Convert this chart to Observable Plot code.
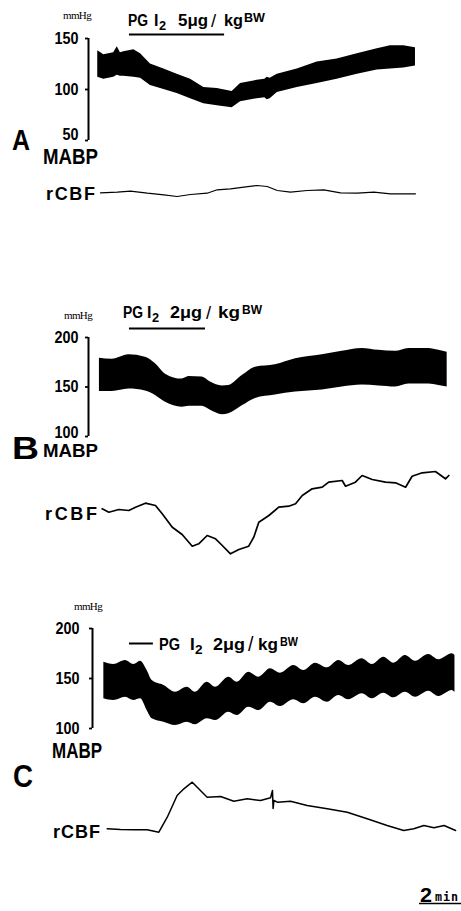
<!DOCTYPE html>
<html>
<head>
<meta charset="utf-8">
<script src="https://cdn.jsdelivr.net/npm/d3@7"></script>
<script src="https://cdn.jsdelivr.net/npm/@observablehq/plot@0.6"></script>
<style>
  html, body { margin: 0; padding: 0; background: #fff; }
  #fig { position: relative; width: 461px; height: 911px; overflow: hidden; background: #fff; }
  #fig svg { position: absolute; left: 0; }
</style>
</head>
<body>
<div id="fig"></div>
<script>
// ---------------- DATA (time in minutes, pressure in mmHg, rCBF in relative units) ----------------
// Panel A : PGI2 5 ug/kgBW
const aTime = [0.44,0.73,1.20,1.37,1.52,1.68,2.16,2.48,2.95,3.59,4.22,4.86,5.49,6.13,6.84,7.24,8.03,8.40,8.51,8.65,8.99,9.94,10.89,11.84,12.80,13.75,14.38,15.01,15.57];
const aHigh = [138,134,136,142,136,137,139,135,125,120,115,110,102,101,98,106,109,110,112,111,115,120,127,130,135,140,143,143,141];
const aLow  = [112,110,112,114,113,113,112,111,104,100,96,91,86,84,82,88,91,92,90,91,97,102,106,110,115,119,120,121,123];
const aFlowTime = [0.57,1.37,2.00,2.80,3.59,4.22,4.86,5.65,6.13,6.76,7.40,8.03,8.51,8.99,9.62,10.41,11.20,12.00,12.80,13.59,14.38,15.33,15.57];
const aFlow     = [-0.3,0.3,1.3,-0.7,-2.3,-4,-2,-0.7,2.7,3.7,5.3,7,6,2,0.3,2,2.7,-0.3,-0.7,0.3,-1.3,-1.3,-1.3];

// Panel B : PGI2 2 ug/kgBW
const bTime = [0.52,1.13,1.92,2.71,3.19,3.67,4.46,4.78,5.41,5.81,6.37,6.68,7.32,7.95,8.90,9.86,11.13,12.08,13.03,13.82,14.62,15.25,16.20,16.68,17.08];
const bHigh = [179,178,182.5,180,173.5,163,158,160.5,160,155,151,151.5,161.5,170,172.5,178.5,182.5,186,189,187,186,189,189,187,185];
const bLow  = [145.5,145.5,148,146,141.5,134.5,129.5,130.5,130.5,126.5,122,123,131,138.5,142,145,147,150,152,151,150,153,153,151.5,150];
const bFlowTime = [0.65,0.97,1.44,1.92,2.24,2.71,3.19,3.51,3.99,4.46,4.94,5.25,5.65,6.05,6.37,6.76,7.16,7.63,7.87,8.11,8.59,9.06,9.54,9.86,10.18,10.65,11.13,11.44,12.08,12.24,12.71,13.03,13.51,14.14,14.62,15.10,15.41,15.89,16.52,17.00,17.16];
const bFlow     = [1.7,-1.7,1,0,3.3,7.3,5,-3.3,-16.7,-24,-35.7,-33.3,-25,-28.3,-35,-43.3,-39,-35.7,-26.7,-11.7,-5,3.3,4.3,6.7,15,21.7,23.3,28.3,30,24.3,28.3,35,31,28.3,27.7,23.3,34.3,37.7,39,31.7,35];

// Panel C : PGI2 2 ug/kgBW
const cTime = [0.54,1.01,1.57,1.97,2.29,2.60,2.84,3.40,3.95,4.51,4.90,5.46,5.86,6.49,6.89,7.44,7.92,8.48,8.95,9.59,10.06,10.62,11.18,11.73,12.20,12.84,13.32,13.87,14.35,14.90,15.38,16.01,16.49,17.13,17.26];
const cHigh = [166.3,164,168,164,167.3,158,148,143,136.3,141.3,136.3,146.3,141.3,151.3,146.3,156.3,151.3,159.7,155.3,163,158,165.3,160.7,168,163,169.7,164,171.3,165.3,173,167.3,174,168.7,174.7,173];
const cLow  = [129.7,128,131.3,128,129.7,118,109.7,106.3,103,106.3,103.7,109.7,108,116.3,113,121.3,118,126.3,122,128.7,124.7,131.3,126.3,133,128.7,134.7,129.7,135.3,130.7,136.3,131.3,137.3,132,138,136];
const cFlowTime = [0.70,1.33,1.97,2.60,3.16,3.56,4.03,4.35,4.75,5.14,5.46,6.10,6.73,7.37,8.00,8.48,8.57,8.60,8.64,8.80,9.43,10.22,11.18,12.13,13.08,14.03,14.82,15.30,15.78,16.26,16.74,17.29];
const cFlow     = [0.7,0,-0.3,-0.3,-2.7,12.3,34,40.7,47.3,39,32.3,33,28.3,30.7,29,31.7,39,21,29,27.3,28.3,24,20.7,17.3,10.7,4,-1,0.7,4,1.7,4,-1];

// infusion markers and doses
const panelNames = ["A","B","C"];
const drugStart = [1.95, 1.95, 1.76];
const drugEnd   = [6.48, 5.57, 2.90];
const doseText  = ["5", "2", "2"];
// axis ticks (mmHg)
const aTicks = [50, 100, 150];
const bTicks = [100, 150, 200];
const cTicks = [100, 150, 200];
// time scale bar
const scaleBarMinutes = 2;

// ---------------- LAYOUT ----------------
const W = 461, PPM = 21, XMAX = 17.5;
const SANS = "'Liberation Sans',Arial,Helvetica,sans-serif";
const SERIF = "'Liberation Serif','Times New Roman',serif";
const MONO = "'DejaVu Sans Mono','Liberation Mono',monospace";
const fig = document.getElementById("fig");

const rows = (T, H, L) => T.map((t, i) => ({t, hi: H[i], lo: L[i]}));
const flowRows = (T, V) => T.map((t, i) => ({t, v: V[i]}));

function mabp({T, H, L, ticks, ml, mt, h, mb, curve, drug, tickPad, bottomShift}) {
  const svg = Plot.plot({
    width: W, height: h,
    marginLeft: ml, marginRight: W - ml - XMAX * PPM, marginTop: mt, marginBottom: mb,
    x: {domain: [0, XMAX], axis: null},
    y: {domain: [ticks[0], ticks[ticks.length - 1]], axis: null},
    style: {background: "transparent", overflow: "visible", fontFamily: SANS, fontSize: "18px", fontWeight: "bold", color: "black"},
    marks: [
      Plot.areaY(rows(T, H, L), {x: "t", y1: "lo", y2: "hi", fill: "black", curve}),
      Plot.ruleX([0], {stroke: "black", strokeWidth: 2}),
      Plot.axisY({ticks, tickSize: 3, tickPadding: tickPad, strokeWidth: 1.8, fontSize: 17, fontWeight: "bold", fontFamily: SANS, label: null, tickFormat: d => String(d)}),
      ...(drug ? [Plot.ruleY([drug], {x1: "start", x2: "end", y: () => ticks[ticks.length - 1], dy: drug.dy, stroke: "black", strokeWidth: 2})] : [])
    ]
  });
  // condensed look of the original typeface; lowest label sits a little higher
  d3.select(svg).selectAll("text").each(function () {
    const s = this.textContent;
    if (/^\d+$/.test(s)) {
      const el = d3.select(this).attr("textLength", 8 * s.length).attr("lengthAdjust", "spacingAndGlyphs");
      if (+s === ticks[0] && bottomShift) {
        const tr = el.attr("transform") || "";
        el.attr("transform", `${tr} translate(0,${-bottomShift})`);
      }
    }
  });
  return svg;
}

function flow({T, V, ml, h, domain, sw}, extra = []) {
  return Plot.plot({
    width: W, height: h,
    marginLeft: ml, marginRight: W - ml - XMAX * PPM, marginTop: 0, marginBottom: 0,
    x: {domain: [0, XMAX], axis: null},
    y: {domain, axis: null},
    style: {background: "transparent", overflow: "visible"},
    marks: [
      Plot.lineY(flowRows(T, V), {x: "t", y: "v", stroke: "black", strokeWidth: sw, curve: "linear", strokeLinejoin: "round"}),
      ...extra
    ]
  });
}

function place(svg, top) { svg.style.top = top + "px"; fig.appendChild(svg); return svg; }

function label(svg, str, x, y, a = {}) {
  const t = d3.select(svg).append("text")
    .attr("x", x).attr("y", y)
    .attr("text-anchor", a.anchor || "start")
    .attr("font-family", a.family || SANS)
    .attr("font-size", a.size || 18)
    .attr("font-weight", a.weight || "bold")
    .attr("letter-spacing", a.ls || 0)
    .attr("fill", "black")
    .text(str);
  if (a.len) t.attr("textLength", a.len).attr("lengthAdjust", a.adjust || "spacingAndGlyphs");
}

// "PG I2 n µg/kgBW" built from pieces placed like the original lettering
function pgLabel(svg, y, dose, p) {
  const s = p.size;
  label(svg, "PG", p.pg, y, {size: s, len: p.pgLen});
  label(svg, "I", p.i, y, {size: s});
  label(svg, "2", p.sub, y + 4, {size: s * 0.8});
  label(svg, dose + "\u03bcg", p.dose, y, {size: s, len: p.doseLen});
  label(svg, "/", p.slash, y + 1, {size: s * 1.15, weight: "normal"});
  label(svg, "kg", p.kg, y, {size: s, len: p.kgLen});
  label(svg, "BW", p.bw, y - 4, {size: s * 0.75, len: p.bwLen});
}

// ---------- Panel A ----------
const sA = place(mabp({T: aTime, H: aHigh, L: aLow, ticks: aTicks, ml: 88, mt: 38, h: 170, mb: 30, curve: "linear",
  drug: {start: drugStart[0], end: drugEnd[0], dy: -4}, tickPad: 7, bottomShift: 6}), 0);
label(sA, "mmHg", 77, 19, {anchor: "middle", family: SERIF, size: 11, weight: "normal", ls: -0.6});
pgLabel(sA, 26, doseText[0], {size: 16, pg: 128, pgLen: 20, i: 154, sub: 159, dose: 178, doseLen: 30, slash: 211, kg: 224, kgLen: 19, bw: 244, bwLen: 21});
label(sA, panelNames[0], 12, 150, {size: 30, len: 18});
label(sA, "MABP", 43, 164, {size: 22, len: 55});

const fA = place(flow({T: aFlowTime, V: aFlow, ml: 88, h: 40, domain: [-18, 22], sw: 1.2}), 170);
label(fA, "rCBF", 46, 30, {size: 18, len: 49, adjust: "spacing"});

// ---------- Panel B ----------
const sB = place(mabp({T: bTime, H: bHigh, L: bLow, ticks: bTicks, ml: 88, mt: 47, h: 175, mb: 29, curve: "monotone-x",
  drug: {start: drugStart[1], end: drugEnd[1], dy: -9}, tickPad: 7, bottomShift: 4}), 290);
label(sB, "mmHg", 78, 29, {anchor: "middle", family: SERIF, size: 11, weight: "normal", ls: -0.6});
pgLabel(sB, 28, doseText[1], {size: 16, pg: 123, pgLen: 20, i: 147, sub: 152, dose: 170, doseLen: 32, slash: 206, kg: 218, kgLen: 22, bw: 242, bwLen: 20});
label(sB, panelNames[1], 12, 169, {size: 32, len: 27});
label(sB, "MABP", 43, 167, {size: 18, len: 55});

const fB = place(flow({T: bFlowTime, V: bFlow, ml: 88, h: 100, domain: [-55, 45], sw: 1.7}), 465);
label(fB, "rCBF", 45, 55, {size: 18, len: 52, adjust: "spacing"});

// ---------- Panel C ----------
const sC = place(mabp({T: cTime, H: cHigh, L: cLow, ticks: cTicks, ml: 92, mt: 38, h: 170, mb: 32, curve: "monotone-x",
  drug: {start: drugStart[2], end: drugEnd[2], dy: 15}, tickPad: 10}), 590);
label(sC, "mmHg", 88, 20, {anchor: "middle", family: SERIF, size: 11, weight: "normal", ls: -0.6});
pgLabel(sC, 60, doseText[2], {size: 17, pg: 159, pgLen: 21, i: 190, sub: 195, dose: 213, doseLen: 32, slash: 248, kg: 258, kgLen: 20, bw: 280, bwLen: 18});
label(sC, "MABP", 52, 168, {size: 22, len: 50});

const barEnd = XMAX + 1.5 / PPM;
const fC = place(flow({T: cFlowTime, V: cFlow, ml: 92, h: 151, domain: [-82, 69], sw: 1.5}, [
  Plot.ruleY([{s: barEnd - scaleBarMinutes, e: barEnd}], {x1: "s", x2: "e", y: () => -82, dy: -8, stroke: "black", strokeWidth: 1.3})
]), 760);
label(fC, panelNames[2], 13, 27, {size: 32, len: 20});
label(fC, "rCBF", 53, 78, {size: 18, len: 47, adjust: "spacing"});
label(fC, "2", 420, 142, {size: 20, len: 12});
label(fC, "min", 435, 141, {family: MONO, size: 12, ls: 1, len: 24});
</script>
</body>
</html>
